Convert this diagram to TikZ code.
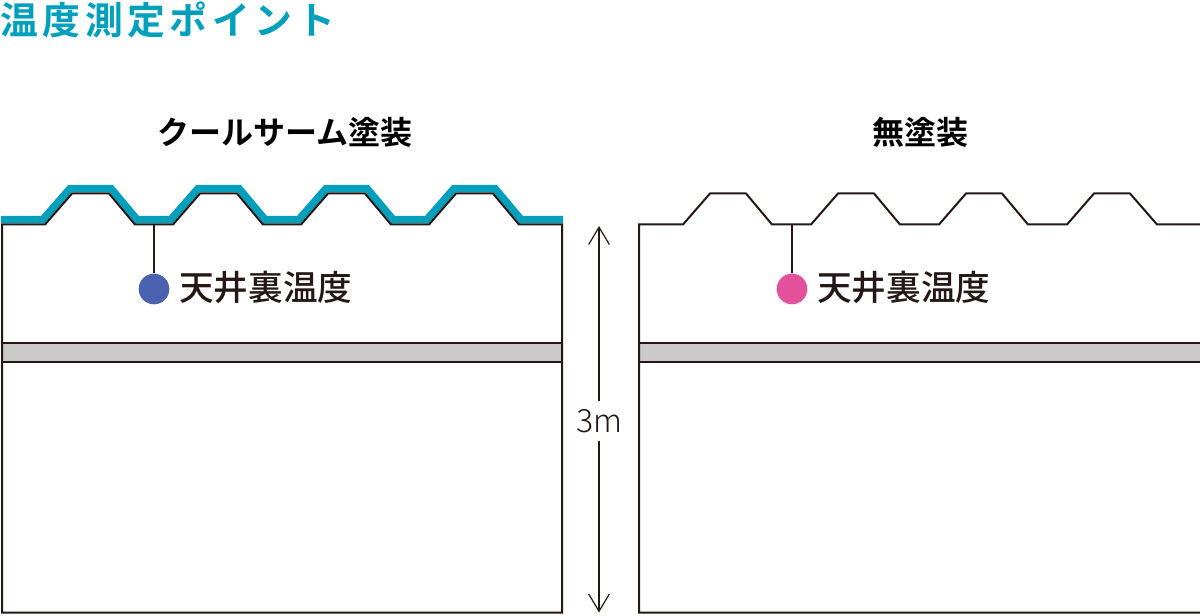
\documentclass[tikz,border=0pt]{standalone}
\usepackage{fontspec}
\usetikzlibrary{arrows.meta}
\newfontfamily\jpbold{Noto Sans CJK JP Bold}[LetterSpace=12]
\newfontfamily\jphead{Noto Sans CJK JP Bold}
\newfontfamily\jpreg{Noto Sans CJK JP Medium}
\newfontfamily\latinlight{Noto Sans CJK JP Light}
\definecolor{ink}{HTML}{231815}
\definecolor{teal}{HTML}{00A0BC}
\definecolor{slab}{HTML}{CACACA}
\definecolor{cool}{HTML}{4A62B0}
\definecolor{hot}{HTML}{E2519A}
\tikzset{
  x=0.75pt,y=-0.75pt,
  wall/.style={draw=ink,line width=1.5,line join=miter},
  coat/.style={draw=teal,line width=5.6,line join=miter},
  slabbox/.style={draw=ink,fill=slab,line width=1.3},
  slabtop/.style={draw=ink,line width=2},
  probe/.style={draw=ink,line width=1.1},
  dot/.style={circle,inner sep=0pt,minimum size=23pt},
  lab/.style={anchor=west,inner sep=0pt,text=ink,font=\jpreg\fontsize{26}{26}\selectfont},
  head/.style={inner sep=0pt,text=black,font=\jphead\fontsize{24}{24}\selectfont},
  dim/.style={draw=ink,line width=0.9,{Straight Barb[length=13pt,width=15.5pt,line width=0.9pt]}-{Straight Barb[length=13pt,width=15.5pt,line width=0.9pt]}}
}
\begin{document}
\begin{tikzpicture}
\useasboundingbox (0,0) rectangle (1200,616);
\node[anchor=west,inner sep=0pt,text=teal,font=\jpbold\fontsize{28.4}{29}\selectfont] (title) at (0,19.5) {温度測定ポイント};
\node[head] (hl) at (285,132) {クールサーム塗装};
\node[head] (hr) at (920,132) {無塗装};
% left
\draw[slabbox] (2,343) rectangle (562,362);
\draw[slabtop] (2,343) -- (562,343);
\draw[coat] (1,219.5) -- (43,219.5) -- (70,188.5) -- (111,188.5) -- (137,219.5) -- (171,219.5) -- (198,188.5) -- (239,188.5) -- (265,219.5) -- (299,219.5) -- (326,188.5) -- (367,188.5) -- (393,219.5) -- (427,219.5) -- (454,188.5) -- (495,188.5) -- (521,219.5) -- (563,219.5);
\draw[wall] (2,612.5) -- (2,224.5) -- (45,224.5) -- (72,193.5) -- (109,193.5) -- (135,224.5) -- (173,224.5) -- (200,193.5) -- (237,193.5) -- (263,224.5) -- (301,224.5) -- (328,193.5) -- (365,193.5) -- (391,224.5) -- (429,224.5) -- (456,193.5) -- (493,193.5) -- (519,224.5) -- (562,224.5) -- (562,612.5) -- cycle;
\coordinate (tl) at (154,224.5);
\node[dot,fill=cool] (dl) at (154,289) {};
\draw[probe] (tl) -- (dl);
\node[lab] (ll) at (179,287) {天井裏温度};
% right
\draw[slabbox] (639,343) rectangle (1201,362);
\draw[slabtop] (639,343) -- (1201,343);
\draw[wall] (1201,224.5) -- (1157,224.5) -- (1130,193.5) -- (1094,193.5) -- (1067,224.5) -- (1028,224.5) -- (1002,193.5) -- (966,193.5) -- (939,224.5) -- (900,224.5) -- (874,193.5) -- (838,193.5) -- (811,224.5) -- (772,224.5) -- (746,193.5) -- (710,193.5) -- (683,224.5) -- (639,224.5) -- (639,612.5) -- (1201,612.5);
\coordinate (tr) at (792,224.5);
\node[dot,fill=hot] (dr) at (792,289) {};
\draw[probe] (tr) -- (dr);
\node[lab] (lr) at (817,287) {天井裏温度};
% dimension
\coordinate (dt) at (599,226);
\coordinate (db) at (599,612.5);
\draw[dim] (dt) -- (db);
\node[fill=white,inner xsep=1pt,inner ysep=6pt,text=ink,font=\latinlight\fontsize{24}{24}\selectfont] (dimlab) at (599.5,421) {3m};
\end{tikzpicture}
\end{document}
